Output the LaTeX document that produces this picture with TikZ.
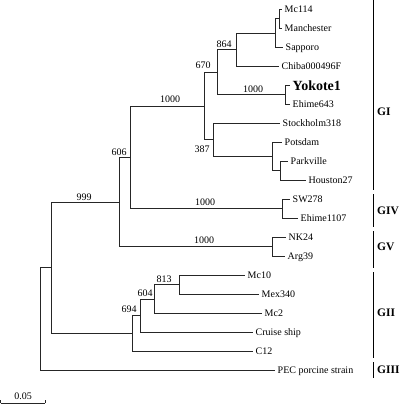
\documentclass[tikz,border=0pt]{standalone}
\usepackage{fontspec}
\setmainfont{Liberation Serif}
\begin{document}
\begin{tikzpicture}[x=1pt,y=-1pt,
  br/.style={line width=0.8pt, draw=black!85},
  leaf/.style={anchor=west, inner xsep=2.5pt, inner ysep=0pt, text height=6.6pt, text depth=0pt, font=\fontsize{10}{12}\selectfont},
  boot/.style={inner sep=0pt, text height=6.6pt, text depth=0pt, font=\fontsize{10}{12}\selectfont},
  grp/.style={anchor=west, inner sep=0pt, text height=7.6pt, text depth=0pt, font=\fontsize{11.5}{13}\selectfont\bfseries},
  gbar/.style={line width=1pt, draw=black}]
\useasboundingbox (0,0) rectangle (400,406);
% internal nodes
\coordinate (nMM) at (279,18.5);
\coordinate (nS) at (275,33);
\coordinate (n864) at (236,49.5);
\coordinate (nYE) at (285,94.5);
\coordinate (n670) at (217,72);
\coordinate (nPH) at (280,170.5);
\coordinate (nP) at (272,156);
\coordinate (n387) at (213,139.5);
\coordinate (nB) at (204,106);
\coordinate (nGIV) at (282,208.5);
\coordinate (nC) at (130,157.5);
\coordinate (nGV) at (272,246.5);
\coordinate (nD) at (119,202);
\coordinate (n179) at (179,284.5);
\coordinate (n154) at (154,299);
\coordinate (n140) at (140,315.5);
\coordinate (n132) at (132,333);
\coordinate (nE) at (51,267.5);
\coordinate (root) at (40,319);
% leaves
\node[leaf] (Mc114) at (282,9) {Mc114};
\node[leaf] (Manchester) at (282,28) {Manchester};
\node[leaf] (Sapporo) at (283,47) {Sapporo};
\node[leaf] (Chiba) at (279,66) {Chiba000496F};
\node[leaf, text height=9.3pt, font=\fontsize{14}{16}\selectfont\bfseries] (Yokote) at (290,85.5) {Yokote1};
\node[leaf] (Ehime643) at (290,104) {Ehime643};
\node[leaf] (Stockholm) at (280,123) {Stockholm318};
\node[leaf] (Potsdam) at (282,142) {Potsdam};
\node[leaf] (Parkville) at (288,161) {Parkville};
\node[leaf] (Houston) at (306,180) {Houston27};
\node[leaf] (SW278) at (290,199) {SW278};
\node[leaf] (Ehime1107) at (298,218) {Ehime1107};
\node[leaf] (NK24) at (286,237) {NK24};
\node[leaf] (Arg39) at (285,256) {Arg39};
\node[leaf] (Mc10) at (245,275) {Mc10};
\node[leaf] (Mex340) at (259,294) {Mex340};
\node[leaf] (Mc2) at (262,313) {Mc2};
\node[leaf] (Cruise) at (253,332) {Cruise ship};
\node[leaf] (C12) at (253,351) {C12};
\node[leaf] (PEC) at (275,370) {PEC porcine strain};
% branches
\draw[br] (nMM) |- (Mc114.west);
\draw[br] (nMM) |- (Manchester.west);
\draw[br] (nS) |- (nMM);
\draw[br] (nS) |- (Sapporo.west);
\draw[br] (n864) |- (nS);
\draw[br] (n864) |- (Chiba.west);
\draw[br] (nYE) |- (Yokote.west);
\draw[br] (nYE) |- (Ehime643.west);
\draw[br] (n670) |- (n864);
\draw[br] (n670) |- (nYE);
\draw[br] (nPH) |- (Parkville.west);
\draw[br] (nPH) |- (Houston.west);
\draw[br] (nP) |- (Potsdam.west);
\draw[br] (nP) |- (nPH);
\draw[br] (n387) |- (Stockholm.west);
\draw[br] (n387) |- (nP);
\draw[br] (nB) |- (n670);
\draw[br] (nB) |- (n387);
\draw[br] (nGIV) |- (SW278.west);
\draw[br] (nGIV) |- (Ehime1107.west);
\draw[br] (nC) |- (nB);
\draw[br] (nC) |- (nGIV);
\draw[br] (nGV) |- (NK24.west);
\draw[br] (nGV) |- (Arg39.west);
\draw[br] (nD) |- (nC);
\draw[br] (nD) |- (nGV);
\draw[br] (n179) |- (Mc10.west);
\draw[br] (n179) |- (Mex340.west);
\draw[br] (n154) |- (n179);
\draw[br] (n154) |- (Mc2.west);
\draw[br] (n140) |- (n154);
\draw[br] (n140) |- (Cruise.west);
\draw[br] (n132) |- (n140);
\draw[br] (n132) |- (C12.west);
\draw[br] (nE) |- (nD);
\draw[br] (nE) |- (n132);
\draw[br] (root) |- (nE);
\draw[br] (root) |- (PEC.west);
% bootstrap values
\node[boot] (b864) at (224,44) {864};
\node[boot] (b670) at (203,65) {670};
\node[boot] (bY) at (253,89.5) {1000};
\node[boot] (bB) at (170,99.5) {1000};
\node[boot] (b387) at (202,149) {387};
\node[boot] (b606) at (119,152) {606};
\node[boot] (bGIV) at (205,202) {1000};
\node[boot] (bGV) at (204,240.5) {1000};
\node[boot] (b999) at (84,197) {999};
\node[boot] (b813) at (164,279) {813};
\node[boot] (b604) at (145,293) {604};
\node[boot] (b694) at (129,309) {694};
% group bars
\draw[gbar] (373,0) -- (373,190);
\draw[gbar] (373,194) -- (373,227);
\draw[gbar] (373,231) -- (373,268);
\draw[gbar] (373,272) -- (373,358);
\draw[gbar] (373,362) -- (373,378);
\node[grp] (GI) at (377,112) {GI};
\node[grp] (GIV) at (377,211) {GIV};
\node[grp] (GV) at (377,247) {GV};
\node[grp] (GII) at (377,313) {GII};
\node[grp] (GIII) at (377,370) {GIII};
% scale bar
\coordinate (s0) at (0.5,403);
\coordinate (s1) at (45,403);
\draw[br] (s0) -- (s1);
\draw[br] (s0) -- ++(0,-3);
\draw[br] (s1) -- ++(0,-3);
\node[boot] (scale) at (23,396) {0.05};
\end{tikzpicture}
\end{document}
